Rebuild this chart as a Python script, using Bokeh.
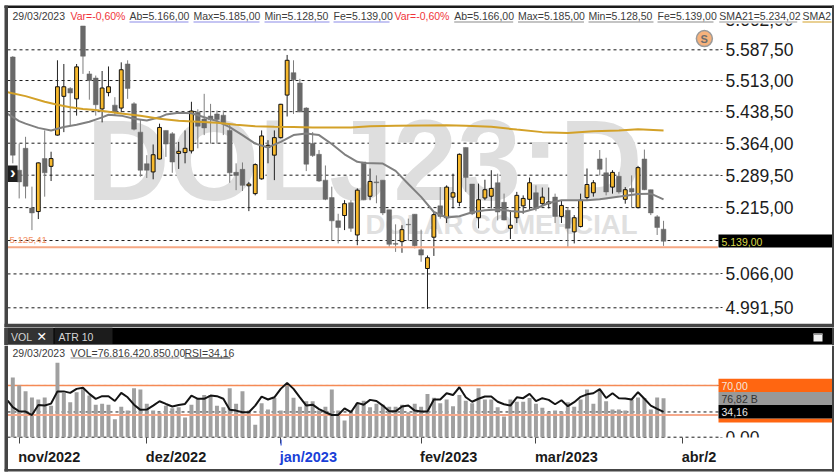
from bokeh.layouts import column
from bokeh.models import BoxAnnotation, FixedTicker, Label, Range1d
from bokeh.plotting import figure
from bokeh.embed import file_html
from bokeh.resources import INLINE

opens = [5570,5301,5352,5214,5206,5328,5310,5383,5475,5494,5469,5646,5529,5519,5445,5484,5454,5447,5553,5457,
         5390,5316,5297,5327,5394,5386,5340,5342,5346,5437,5421,5428,5433,5430,5394,5296,5303,5265,5247,5281,
         5354,5336,5377,5478,5532,5507,5447,5363,5338,5278,5238,5185,5197,5226,5153,5320,5241,5274,5278,5210,
         5134,5138,5177,5200,5120,5078,5148,5219,5192,5239,5227,5354,5269,5192,5237,5241,5272,5227,5168,5192,
         5219,5234,5249,5224,5224,5239,5195,5209,5160,5172,5238,5249,5327,5295,5262,5287,5234,5259,5215,5327,
         5256,5194,5166]
highs = [5572,5363,5379,5263,5319,5394,5344,5562,5553,5497,5553,5646,5536,5525,5536,5547,5473,5557,5562,5461,
         5421,5336,5361,5410,5394,5390,5367,5394,5462,5444,5481,5457,5441,5441,5410,5317,5319,5274,5317,5394,
         5371,5394,5457,5575,5562,5517,5449,5390,5348,5312,5263,5201,5232,5232,5259,5320,5305,5289,5278,5210,
         5177,5175,5190,5200,5165,5107,5205,5262,5266,5293,5340,5354,5269,5270,5279,5301,5293,5247,5209,5251,
         5243,5284,5266,5261,5261,5247,5232,5216,5198,5247,5305,5278,5348,5330,5301,5297,5262,5289,5311,5349,
         5256,5198,5185]
lows = [5317,5236,5236,5164,5189,5240,5276,5382,5390,5406,5429,5529,5467,5429,5413,5475,5429,5437,5469,5394,
        5286,5283,5280,5326,5332,5295,5304,5317,5340,5352,5383,5363,5363,5383,5272,5255,5253,5207,5243,5279,
        5317,5278,5375,5427,5433,5437,5299,5332,5274,5232,5141,5134,5164,5160,5130,5232,5232,5225,5198,5126,
        5115,5113,5140,5123,5093,4989,5106,5190,5180,5213,5218,5251,5198,5168,5232,5213,5186,5186,5144,5180,
        5201,5209,5207,5220,5213,5180,5180,5126,5134,5170,5232,5240,5289,5243,5247,5247,5224,5216,5213,5255,
        5198,5153,5128.5]
closes = [5336,5274,5264,5203,5318,5295,5328,5498,5498,5483,5546,5572,5513,5455,5495,5498,5437,5539,5494,5397,
          5301,5301,5337,5401,5362,5320,5345,5352,5440,5404,5400,5420,5420,5412,5295,5289,5266,5269,5314,5381,
          5359,5377,5456,5562,5515,5438,5315,5335,5276,5234,5185,5170,5224,5168,5255,5233,5275,5272,5203,5132,
          5132,5165,5176,5129,5108,5102,5199,5195,5262,5249,5338,5284,5201,5233,5256,5259,5205,5187,5175,5243,
          5236,5272,5213,5239,5228,5195,5220,5168,5192,5232,5268,5272,5303,5251,5296,5251,5256,5251,5307,5256,
          5203,5170,5139]
sma21_idx = [-0.8,1,2,4,6,8,10,12,14,15,17,19,21,23,24,26,28,30,32,34,36,38,40,42,44,46,48,50,52,54,55,58,60,62,64,66,
             68,70,72,74,76,78,80,82,84,86,88,90,92,94,96,98,100,102]
sma21 = [5433,5416,5410,5400,5394,5402,5407.5,5414.5,5425,5431,5429,5421.5,5417.5,5425,5431.5,5436,5434.5,5425,5416,
         5402,5383,5363,5354,5367,5383,5386.5,5383,5362,5338,5320.5,5318,5316.5,5299.5,5269,5239.5,5205,
         5192.5,5195.5,5204.5,5209,5210.5,5207.5,5205,5213,5225.5,5232,5232,5232,5234,5238,5242,5246,5247,5234.02]
sma200_idx = [-0.8,2,5,7,9,11,13,15,17,20,23,26,29,32,35,38,41,44,47,50,53,56,60,68,71,75,79,83,87,91,95,98,102]
sma200 = [5485,5475.5,5462,5455,5449,5445,5442.5,5438.5,5434,5428.5,5421.5,5417,5414.5,5412,5407.5,5404,5402.5,5402,
          5401,5401,5401,5404,5405,5406.5,5405,5402.5,5396,5390,5388,5392,5394,5397,5394]
volume_b = [117.6,102,90.7,78,74,78,62,146.5,87,69,88.7,97,82,64,65.7,64,35.5,60,52.6,96.6,
            94,65.7,52.6,48,62,57,59,39,64,75.6,83,83,62,59,96.6,65.7,90.7,52.6,24.3,67,
            54.5,77,52.6,102,77.5,60,71,71,52.6,60,94,52.6,33,52.6,67,72,59,65.7,64,60,
            60,64,49,65.7,60,85,77.5,67,74,61,83,72,67,96.6,74,74,59,41,74,70,
            70,77,65.7,58,49,52.6,50.6,69,60,74,94,65.7,92,71,54.5,54.5,52.6,73.6,78,77,
            54.5,78,76.82]
rsi_idx = [-0.8] + list(range(103))
rsi = [49.6,40.6,35,34.7,30,43.7,42.8,45.5,62,62,60,65.4,67,58.6,51.9,55.5,55.5,49,60,54,44,
       37,37.4,42.8,48.7,45,41.5,43.7,45,56.4,52,52,56.4,55.5,52,37,36,33.8,33.8,42.8,55,
       51,54,65.4,73.5,65.4,54,42.8,44,38,33.8,30,30,39,33.8,46.5,44,50.5,49,42.8,35,
       35,41.5,42.8,36,34.7,34.7,51,51,59.5,57,67.6,54,48,52,55,55,48,44.6,42.8,54,
       52.8,58.6,48.7,52.8,50.5,44.6,50,42,47.4,54.6,58,59.5,65,53,59.5,52.8,52.3,51,60.9,52,
       42.8,38.3,34.16]
price_ticks = [4991.5,5066,5215,5289.5,5364,5438.5,5513,5587.5,5662]
price_labels = ["4.991,50","5.066,00","5.215,00","5.289,50","5.364,00","5.438,50","5.513,00","5.587,50","5.662,00"]
price_grid = [4991.5,5066,5140.5,5215,5289.5,5364,5438.5,5513,5587.5]
support_level = 5125.41
last_close = 5139.0
month_ticks = [1,21,42,64,82,105]
month_labels = ["nov/2022","dez/2022","jan/2023","fev/2023","mar/2023","abr/2"]
rsi_levels = [0,34.16,70]

FONT = "Liberation Sans"
DARK = "#454545"
W = 839
X_RANGE = (-1.928, 129.58)
X_LEFT = -0.83
X_AXIS = 110.92

def band(p, l, r, t, b, color, y0=0):
    p.add_layout(BoxAnnotation(left=l, right=r, top=t - y0, bottom=b - y0, left_units="canvas", right_units="canvas",
                               top_units="canvas", bottom_units="canvas", fill_color=color, fill_alpha=1,
                               line_color=None, level="annotation"))

def text(p, s, x, y, color="#3c3c3c", size=10.5, y0=0, style="normal", font=FONT, align="left", level="annotation"):
    p.add_layout(Label(text=s, x=x, y=y - y0, x_units="canvas", y_units="canvas", text_color=color,
                       text_font=font, text_font_size=f"{size}px", text_font_style=style, text_align=align,
                       text_baseline="middle", level=level))

def style_value_axis(a):
    a.fixed_location = X_AXIS
    a.axis_line_color = None
    a.major_tick_in = 0
    a.major_tick_out = 2
    a.major_tick_line_color = "#333333"
    a.minor_tick_line_color = None
    a.major_label_standoff = 3
    a.major_label_text_font = FONT
    a.major_label_text_font_size = "17.5px"
    a.major_label_text_color = "#1c1c1c"

def dashed(p, levels, **kw):
    n = len(levels)
    p.segment([X_LEFT] * n, levels, [X_AXIS] * n, levels, line_color="#1a1a1a", line_dash="3 3", line_width=1,
              level="underlay", **kw)

# ---------- price panel ----------
top = figure(width=W, height=327, output_backend="svg", toolbar_location=None, y_axis_type="log",
             y_axis_location="right", x_axis_location=None,
             x_range=Range1d(*X_RANGE), y_range=Range1d(4948.7, 5709.3),
             min_border=0, outline_line_color=None, background_fill_color="white", border_fill_color="white")
ax = top.yaxis[0]
ax.ticker = FixedTicker(ticks=price_ticks)
ax.major_label_overrides = dict(zip(price_ticks, price_labels))
style_value_axis(ax)
top.xgrid.visible = False
top.ygrid.visible = False

text(top, "DOLJ23:D", 86, 159, "#dedede", 115, style="bold", level="underlay")
text(top, "DOLAR COMERCIAL", 365, 224, "#e0e0e0", 27.5, style="bold", level="underlay")
dashed(top, price_grid)

idx = list(range(len(closes)))
up = [i for i in idx if closes[i] >= opens[i]]
dn = [i for i in idx if closes[i] < opens[i]]
top.segment(dn, [highs[i] for i in dn], dn, [lows[i] for i in dn], color="#7d7d7d", line_width=1)
top.segment(up, [highs[i] for i in up], up, [lows[i] for i in up], color="#222222", line_width=1)
top.vbar(x=dn, width=0.74, top=[opens[i] for i in dn], bottom=[closes[i] for i in dn], fill_color="#696969", line_color="#696969", line_width=0.5)
top.vbar(x=up, width=0.6, top=[closes[i] for i in up], bottom=[opens[i] for i in up], fill_color="#f7b92d", line_color="#111111", line_width=1)
top.line(sma21_idx, sma21, color="#808080", line_width=2)
top.line(sma200_idx, sma200, color="#d3a128", line_width=2)
top.segment([X_LEFT], [support_level], [X_AXIS - 0.4], [support_level], line_color="#f6a884", line_width=2)
top.scatter([108.4], [5615], size=16, fill_color="#f6b27c", line_color="#9a9a9a", line_width=1.5)
text(top, "S", 703.7, 38.5, "#6d6d6d", 11, style="bold", align="center")

text(top, "5.125,41", 9, 239, "#f2905f", 9.6)
band(top, 718, 832, 234, 247, "#000000")
text(top, "5.139,00", 721, 241, "#d8d84a", 10.5)

band(top, 720, 831.5, 7.5, 23, "#ffffff")
header = [("29/03/2023", 12, "#3c3c3c", None), ("Var=-0,60%", 70, "#f0343a", None),
          ("Ab=5.166,00", 129, "#3c3c3c", "#8b8be8"), ("Max=5.185,00", 193, "#3c3c3c", "#8b8be8"),
          ("Min=5.128,50", 264, "#3c3c3c", "#8b8be8"), ("Fe=5.139,00", 333, "#3c3c3c", "#8b8be8"),
          ("Var=-0,60%", 394, "#f0343a", None), ("Ab=5.166,00", 453.7, "#3c3c3c", "#8a8a8a"),
          ("Max=5.185,00", 517.5, "#3c3c3c", "#8a8a8a"), ("Min=5.128,50", 588, "#3c3c3c", "#8a8a8a"),
          ("Fe=5.139,00", 657, "#3c3c3c", "#8a8a8a"), ("SMA21=5.234,02", 718.7, "#3c3c3c", "#9a9a9a"),
          ("SMA2", 802, "#3c3c3c", "#d3a128")]
widths = {"Ab=5.166,00": 59, "Max=5.185,00": 66, "Min=5.128,50": 65, "Fe=5.139,00": 56, "SMA21=5.234,02": 78, "SMA2": 29}
for s, x, c, u in header:
    text(top, s, x, 15.5, c, 10.5)
    if u:
        band(top, x, x + widths[s], 21, 22, u)

band(top, 4, 833.5, 5, 7.5, "#1a1a1a")
band(top, 4, 833.5, 323.3, 327, DARK)
band(top, 4, 7.5, 5, 327, DARK)
band(top, 831.5, 833.5, 5, 327, DARK)
band(top, 7.5, 17, 165, 181.5, "#1f1f1f")
text(top, "\u203a", 12.3, 172, "#ffffff", 17, style="bold", align="center")

# ---------- tab bar ----------
tabs = figure(width=W, height=18, output_backend="svg", toolbar_location=None, x_axis_location=None, y_axis_location=None,
              x_range=Range1d(0, W), y_range=Range1d(0, 18), min_border=0, outline_line_color=None,
              background_fill_color="white", border_fill_color="white")
tabs.xgrid.visible = False
tabs.ygrid.visible = False
Y0 = 327
band(tabs, 4, 833.5, 327, 345, "#000000", Y0)
band(tabs, 7.5, 53, 327, 343.5, "#333333", Y0)
band(tabs, 54, 112, 327, 343.5, "#1c1c1c", Y0)
band(tabs, 4, 7.5, 327, 345, DARK, Y0)
band(tabs, 831.5, 833.5, 327, 345, DARK, Y0)
band(tabs, 7.5, 831.5, 343.5, 345, "#6a6a6a", Y0)
text(tabs, "VOL", 10.5, 336.5, "#d6d6d6", 10.5, Y0)
text(tabs, "\u2715", 36, 336, "#ffffff", 12.5, Y0, style="bold", font="DejaVu Sans")
text(tabs, "ATR 10", 58, 336.5, "#d6d6d6", 10.5, Y0)
band(tabs, 813, 822, 333, 341, "#f2f2f2", Y0)
band(tabs, 813, 822, 333, 334.5, "#9a9a9a", Y0)

# ---------- indicator panel ----------
low = figure(width=W, height=130, output_backend="svg", toolbar_location=None, y_axis_location="right",
             x_range=Range1d(*X_RANGE), y_range=Range1d(-51.83, 124.1),
             min_border=0, outline_line_color=None, background_fill_color="white", border_fill_color="white")
low.extra_y_ranges = {"vol": Range1d(-75.45, 180.6)}
low.xgrid.visible = False
low.ygrid.visible = False
Y1 = 345
ry = low.yaxis[0]
ry.ticker = FixedTicker(ticks=[0])
ry.major_label_overrides = {0: "0,00"}
style_value_axis(ry)
bx = low.xaxis[0]
bx.fixed_location = -0.4
bx.ticker = FixedTicker(ticks=month_ticks)
bx.major_label_overrides = {t: " " for t in month_ticks}
bx.major_label_text_font_size = "1px"
bx.axis_line_color = None
bx.major_tick_in = 0
bx.major_tick_out = 6
bx.major_tick_line_color = "#444444"
bx.minor_tick_line_color = None

dashed(low, rsi_levels)
low.vbar(x=idx, width=0.62, top=volume_b, bottom=0, y_range_name="vol", fill_color="#a0a0a0", line_color=None)
low.segment([X_LEFT], [70], [X_AXIS - 0.4], [70], line_color="#f58a55", line_width=1.5, level="underlay")
low.segment([X_LEFT], [30], [X_AXIS - 0.4], [30], line_color="#f5a98c", line_width=2)
low.line(rsi_idx, rsi, color="#141414", line_width=2)

for s, t in zip(month_labels, month_ticks):
    low.add_layout(Label(text=s, x=t, y=456 - Y1, x_units="data", y_units="canvas", x_offset=-1,
                         text_color="#1a3fd8" if s.startswith("jan") else "#1a1a1a", text_font=FONT,
                         text_font_size="14.5px", text_font_style="bold", text_baseline="middle"))
low.add_layout(BoxAnnotation(left=41.97, right=42.13, top=439 - Y1, bottom=445 - Y1, left_units="data", right_units="data",
                             top_units="canvas", bottom_units="canvas", fill_color="#1a3fd8", fill_alpha=1, line_color=None))

text(low, "29/03/2023", 12, 352.3, "#3c3c3c", 10.5, Y1)
text(low, "VOL=76.816.420.850,00", 70, 352.3, "#3c3c3c", 10.5, Y1)
band(low, 70, 179, 357, 358, "#8a8a8a", Y1)
text(low, "RSI=34,16", 184, 352.3, "#3c3c3c", 10.5, Y1)
band(low, 184, 230, 357, 358, "#222222", Y1)

band(low, 720, 831.5, 437, 468, "#ffffff", Y1)
band(low, 718, 832, 378.3, 391.5, "#ff6611", Y1)
text(low, "70,00", 721, 385, "#f6e7dc", 10.5, Y1)
band(low, 718, 832, 391.5, 404.5, "#999999", Y1)
text(low, "76,82 B", 721, 398, "#333333", 10.5, Y1)
band(low, 718, 832, 418, 422, "#ff6611", Y1)
band(low, 718, 832, 404.5, 418, "#000000", Y1)
text(low, "34,16", 721, 411.3, "#e8e8e8", 10.5, Y1)

band(low, 4, 833.5, 468.5, 471, DARK, Y1)
band(low, 4, 7.5, 345, 471, DARK, Y1)
band(low, 831.5, 833.5, 345, 471, DARK, Y1)

page = column(top, tabs, low, spacing=0)
open("out.html", "w").write(file_html(page, INLINE))
